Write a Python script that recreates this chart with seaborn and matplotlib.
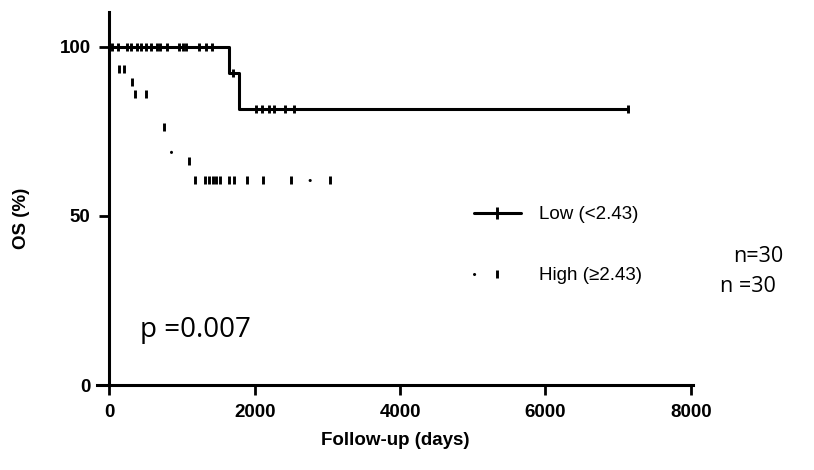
import numpy as np
import pandas as pd
import matplotlib
matplotlib.use("Agg")
import matplotlib.pyplot as plt
from matplotlib.lines import Line2D
import seaborn as sns

sns.set_theme(style="white")
plt.rcParams["font.family"] = ["Liberation Sans", "DejaVu Sans"]
plt.rcParams["lines.scale_dashes"] = False
plt.rcParams["text.color"] = "black"
plt.rcParams["xtick.color"] = "black"
plt.rcParams["ytick.color"] = "black"
plt.rcParams["axes.labelcolor"] = "black"

# ---- data ----
# Low group: step curve (days, OS %) and censored times per level
low_step_days = [0, 1650, 1780, 7140]
low_step_surv = [100, 92.3, 81.5, 81.5]
low_censor_days = [36, 118, 242, 297, 380, 435, 503, 572, 655, 696, 792,
                   957, 1012, 1054, 1232, 1329, 1411,
                   1700,
                   2020, 2100, 2190, 2270, 2410, 2540,
                   7140]

# High group
high_step_days = [0, 45, 95, 250, 330, 560, 700, 850, 1150, 3040]
high_step_surv = [100, 96.7, 93.3, 89.7, 86.0, 81.5, 76.3, 66.3, 60.6, 60.6]
high_censor_days = [130, 200, 310, 350, 502, 750, 1090,
                    1180, 1310, 1370, 1420, 1470, 1520, 1640, 1720,
                    1900, 2120, 2500, 3040]

group_labels = ["Low (<2.43)", "High (≥2.43)"]
n_labels = ["n=30", "n =30"]
p_label = "p =0.007"
x_ticks = [0, 2000, 4000, 6000, 8000]
y_ticks = [0, 50, 100]
x_title = "Follow-up (days)"
y_title = "OS (%)"


def surv_at(days, step_days, step_surv):
    idx = np.searchsorted(step_days, days, side="right") - 1
    return np.asarray(step_surv)[idx]


low_df = pd.DataFrame({"day": low_step_days, "surv": low_step_surv})
high_df = pd.DataFrame({"day": high_step_days, "surv": high_step_surv})

fig = plt.figure(figsize=(8.14, 4.70), dpi=100)
ax = fig.add_axes([97 / 814, 85 / 470, 596 / 814, 373 / 470])

lw = 2.2
sns.lineplot(data=low_df, x="day", y="surv", ax=ax, color="black", lw=lw,
             drawstyle="steps-post", estimator=None, sort=False)
high_dashes = (0, (0.1, 120))
sns.lineplot(data=high_df, x="day", y="surv", ax=ax, color="black", lw=lw,
             drawstyle="steps-post", estimator=None, sort=False,
             linestyle=high_dashes, dash_capstyle="round")

tick_ms, tick_mew = 6, 2.1
ax.plot(low_censor_days, surv_at(low_censor_days, low_step_days, low_step_surv),
        ls="none", marker="|", ms=tick_ms, mew=tick_mew, color="black")
ax.plot(high_censor_days, surv_at(high_censor_days, high_step_days, high_step_surv),
        ls="none", marker="|", ms=tick_ms, mew=tick_mew, color="black")

ax.set_xlim(-170, 8030)
ax.set_ylim(0, 110.3)
ax.spines["left"].set_position(("data", 0))
ax.spines["top"].set_visible(False)
ax.spines["right"].set_visible(False)
for s in ("left", "bottom"):
    ax.spines[s].set_linewidth(2.2)
    ax.spines[s].set_color("black")

ax.set_xticks(x_ticks)
ax.set_yticks(y_ticks)
ax.set_xticklabels([str(v) for v in x_ticks], fontweight="bold", fontsize=13.5)
ax.set_yticklabels([str(v) for v in y_ticks], fontweight="bold", fontsize=13.5)
ax.tick_params(axis="both", direction="out", length=7.5, width=2.0,
               color="black", labelcolor="black", pad=6, left=True, bottom=True)
ax.set_xlabel(x_title, fontweight="bold", fontsize=13.5, labelpad=8, color="black")
ax.set_ylabel(y_title, fontweight="bold", fontsize=13.5, color="black")
ax.yaxis.set_label_coords(-0.112, 0.448)

handles = [
    Line2D([], [], color="black", lw=lw, marker="|", ms=9, mew=tick_mew),
    Line2D([], [], color="black", lw=lw, linestyle=(0, (0.1, 120)),
           dash_capstyle="round", marker="|", ms=tick_ms, mew=tick_mew),
]
leg = fig.legend(handles, group_labels, loc="upper left",
                 bbox_to_anchor=(474 / 814, 1 - 206 / 470),
                 frameon=False, borderpad=0, borderaxespad=0, handlelength=2.5,
                 handletextpad=0.95, labelspacing=2.35, prop={"size": 13.5})
for t in leg.get_texts():
    t.set_color("black")

fig.text(733 / 814, 1 - 256 / 470, n_labels[0], fontsize=15.5,
         family="Open Sans", va="center", ha="left", color="black")
fig.text(720 / 814, 1 - 287 / 470, n_labels[1], fontsize=15.5,
         family="Open Sans", va="center", ha="left", color="black")
fig.text(140 / 814, 1 - 330 / 470, p_label, fontsize=20,
         family="Open Sans", va="center", ha="left", color="black")

fig.savefig("out.png", dpi=100)
